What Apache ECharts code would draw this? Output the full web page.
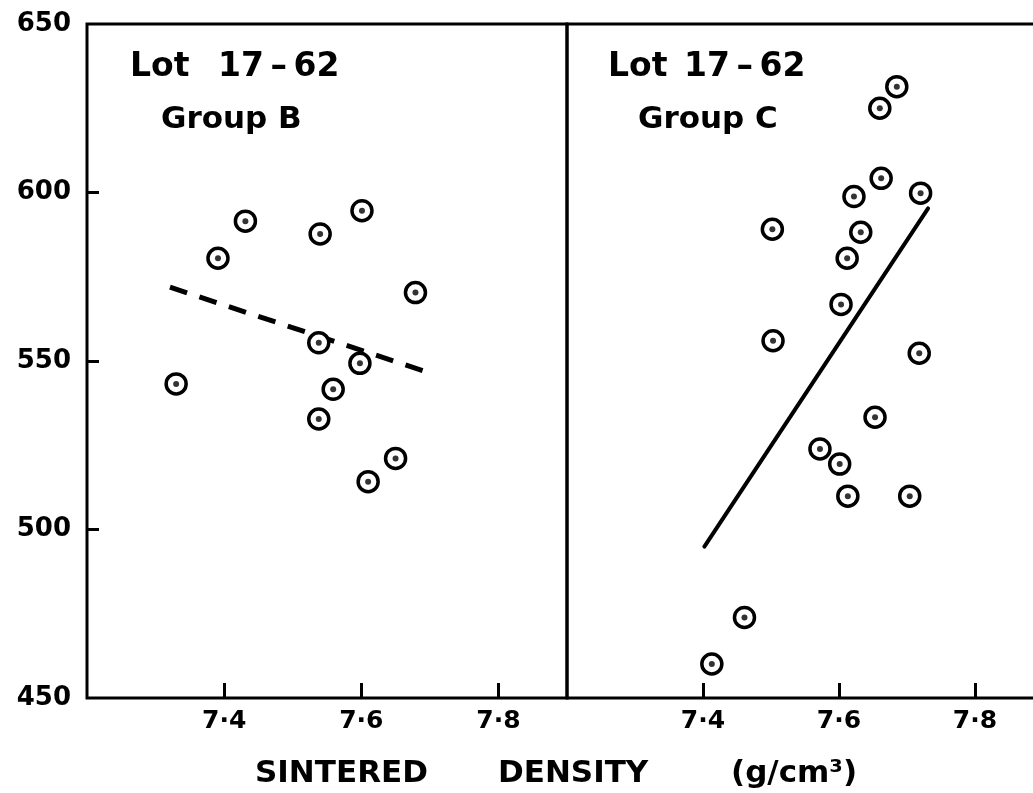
<!DOCTYPE html>
<html>
<head>
<meta charset="utf-8">
<script src="https://cdn.jsdelivr.net/npm/echarts@6/dist/echarts.min.js"></script>
<style>html,body{margin:0;padding:0;background:#fff}#c{width:1033px;height:793px}</style>
</head>
<body>
<div id="c"></div>
<script>
// Data
var groupBPoints = [[7.330,543.2],[7.391,580.5],[7.431,591.5],[7.540,587.7],[7.601,594.6],[7.679,570.3],[7.538,555.4],[7.598,549.3],[7.559,541.6],[7.538,532.8],[7.650,521.1],[7.610,514.2]];
var groupCPoints = [[7.685,631.4],[7.660,625.0],[7.662,604.2],[7.622,598.8],[7.720,599.8],[7.502,589.1],[7.632,588.2],[7.612,580.5],[7.603,566.8],[7.503,556.0],[7.718,552.3],[7.653,533.3],[7.572,523.9],[7.601,519.4],[7.613,509.9],[7.704,509.9],[7.461,473.9],[7.413,460.1]];
var groupBFit = [[7.321,571.9],[7.698,546.6]];
var groupCFit = [[7.402,494.9],[7.731,595.3]];
var xTickValues = [7.4, 7.6, 7.8];
var xTickLabels = ['7·4', '7·6', '7·8'];
var yTickValues = [450, 500, 550, 600, 650];
var yTickLabels = ['450', '500', '550', '600', '650'];

var FONT = 'DejaVu Sans';
function xFmt(v) {
  for (var i = 0; i < xTickValues.length; i++) if (Math.abs(v - xTickValues[i]) < 1e-6) return xTickLabels[i];
  return '';
}
function yFmt(v) {
  for (var i = 0; i < yTickValues.length; i++) if (Math.abs(v - yTickValues[i]) < 1e-6) return yTickLabels[i];
  return '';
}
function xAxisFor(gi) {
  return {
    type: 'value', gridIndex: gi, min: 7.2, max: 7.9, interval: 0.2,
    axisLine: { show: false },
    splitLine: { show: false },
    axisTick: { show: true, inside: true, length: 15, customValues: xTickValues, lineStyle: { color: '#000', width: 3 } },
    axisLabel: { show: true, customValues: xTickValues, formatter: xFmt, margin: 11, color: '#000', fontFamily: FONT, fontWeight: 'bold', fontSize: 25 }
  };
}
function yAxisFor(gi, showLabels) {
  return {
    type: 'value', gridIndex: gi, min: 450, max: 650, interval: 50,
    axisLine: { show: false },
    splitLine: { show: false },
    axisTick: { show: showLabels, inside: true, length: 12, customValues: [500, 550, 600], lineStyle: { color: '#000', width: 3 } },
    axisLabel: { show: showLabels, customValues: yTickValues, formatter: yFmt, margin: 16, color: '#000', fontFamily: FONT, fontWeight: 'bold', fontSize: 26 }
  };
}
function ringSeries(gi, data) {
  return { type: 'scatter', xAxisIndex: gi, yAxisIndex: gi, data: data, symbol: 'circle', symbolSize: 20, z: 4,
    itemStyle: { color: '#fff', borderColor: '#000', borderWidth: 3.5, opacity: 1 }, emphasis: { disabled: true } };
}
function dotSeries(gi, data) {
  return { type: 'scatter', xAxisIndex: gi, yAxisIndex: gi, data: data, symbol: 'circle', symbolSize: 6, z: 5,
    itemStyle: { color: '#000' }, emphasis: { disabled: true } };
}
function txt(x, y, s, size) {
  return { type: 'text', x: x, y: y, z: 10, style: { text: s, fill: '#000', font: 'bold ' + size + 'px "' + FONT + '"', textAlign: 'left', textVerticalAlign: 'middle' } };
}

var chart = echarts.init(document.getElementById('c'), null, { renderer: 'canvas' });
chart.setOption({
  backgroundColor: '#fff',
  animation: false,
  grid: [
    { left: 87, top: 24, width: 480, height: 674, show: true, borderColor: '#000', borderWidth: 3, backgroundColor: 'transparent', containLabel: false, outerBoundsMode: 'none' },
    { left: 567, top: 24, width: 476, height: 674, show: true, borderColor: '#000', borderWidth: 3, backgroundColor: 'transparent', containLabel: false, outerBoundsMode: 'none' }
  ],
  xAxis: [xAxisFor(0), xAxisFor(1)],
  yAxis: [yAxisFor(0, true), yAxisFor(1, false)],
  series: [
    { type: 'line', xAxisIndex: 0, yAxisIndex: 0, data: groupBFit, symbol: 'none', z: 2,
      lineStyle: { color: '#000', width: 5, type: [18, 13], cap: 'butt' } },
    { type: 'line', xAxisIndex: 1, yAxisIndex: 1, data: groupCFit, symbol: 'none', z: 2,
      lineStyle: { color: '#000', width: 4, cap: 'round' } },
    ringSeries(0, groupBPoints), dotSeries(0, groupBPoints),
    ringSeries(1, groupCPoints), dotSeries(1, groupCPoints)
  ],
  graphic: [
    txt(130, 67, 'Lot', 33), txt(218, 67, '17\u2009–\u200962', 33),
    txt(161, 120, 'Group B', 31),
    txt(608, 67, 'Lot', 33), txt(684, 67, '17\u2009–\u200962', 33),
    txt(638, 120, 'Group C', 31),
    txt(255, 774, 'SINTERED', 31),
    txt(498, 774, 'DENSITY', 31),
    txt(731, 774, '(g/cm³)', 31)
  ]
});
</script>
</body>
</html>
